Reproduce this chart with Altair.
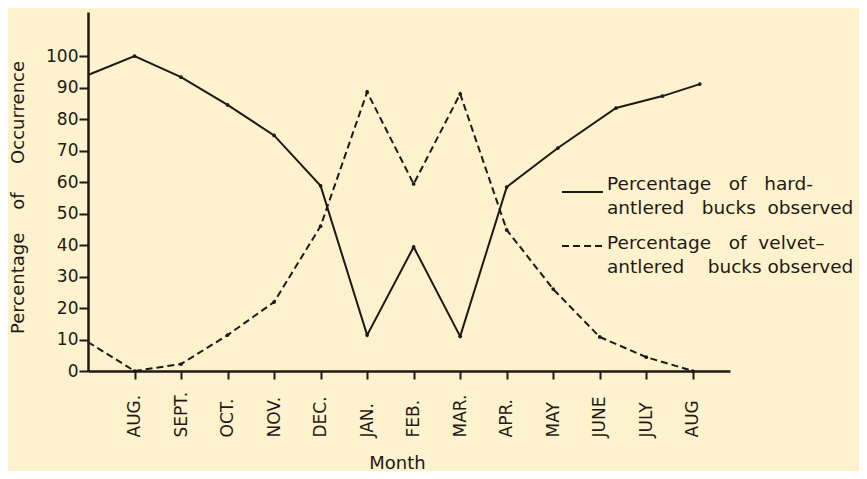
import json
import altair as alt
import pandas as pd

# ---- data ----
months = ["AUG.", "SEPT.", "OCT.", "NOV.", "DEC.", "JAN.", "FEB.", "MAR.",
          "APR.", "MAY", "JUNE", "JULY", "AUG"]
hard_x = [0, 1, 2, 3, 4, 5, 6, 7, 8, 9, 10.1, 11.35, 12.35, 13.15]
hard_pct = [94, 100, 93.3, 84.5, 74.8, 58.8, 11.4, 39.4, 11, 58.4, 70.8, 83.5, 87.3, 91.1]
velvet_x = [0, 1, 2, 3, 4, 5, 6, 7, 8, 9, 10, 11, 12, 13]
velvet_pct = [9.2, 0, 2.2, 11.4, 21.9, 46, 88.6, 59.4, 88, 44.8, 26, 10.8, 4.4, 0]
y_ticks = [0, 10, 20, 30, 40, 50, 60, 70, 80, 90, 100]

NB = "\u00a0"
legend_hard = ["Percentage" + NB * 3 + "of" + NB * 3 + "hard-",
               "antlered" + NB * 3 + "bucks" + NB * 2 + "observed"]
legend_velvet = ["Percentage" + NB * 3 + "of" + NB * 2 + "velvet\u2013",
                 "antlered" + NB * 4 + "bucks" + NB + "observed"]
y_title = "Percentage" + NB * 4 + "of" + NB * 5 + "Occurrence"
x_title = "Month"

INK = "#1e1914"
BG = "#fcf2cd"
FONT = "DejaVu Sans"

hard_df = pd.DataFrame({"x": hard_x, "pct": hard_pct})
velvet_df = pd.DataFrame({"x": velvet_x, "pct": velvet_pct})
one = pd.DataFrame({"k": [0]})

label_expr = json.dumps([""] + months) + "[datum.value]"

x_enc = alt.X(
    "x:Q",
    scale=alt.Scale(domain=[0, 13.8], nice=False, zero=False),
    axis=alt.Axis(
        values=list(range(1, 14)), labelExpr=label_expr, labelAngle=270,
        labelAlign="left", labelBaseline="middle", labelPadding=58,
        labelFontSize=17, tickSize=8, grid=False, labelOverlap=False,
        title=x_title, titleX=309, titleY=92, titleBaseline="middle",
        titleAlign="center", titleFontSize=18, titleFontWeight="normal",
    ),
)
y_enc = alt.Y(
    "pct:Q",
    scale=alt.Scale(domain=[0, 114], nice=False),
    axis=alt.Axis(
        values=y_ticks, tickSize=9, labelPadding=1, labelFontSize=17, grid=False,
        labelOverlap=False, labelBound=False, labelFlush=False,
        title=y_title, titleX=-70, titleY=185, titleAngle=270,
        titleBaseline="middle", titleAlign="center", titleFontSize=18,
        titleFontWeight="normal",
    ),
)

hard_line = alt.Chart(hard_df).mark_line(color=INK, strokeWidth=2).encode(x=x_enc, y=y_enc)
velvet_line = alt.Chart(velvet_df).mark_line(
    color=INK, strokeWidth=2, strokeDash=[7, 4]).encode(x=x_enc, y=y_enc)
hard_pts = alt.Chart(hard_df[hard_df.x > 0]).mark_point(
    filled=True, color=INK, size=14, opacity=1).encode(x=x_enc, y=y_enc)
velvet_pts = alt.Chart(velvet_df[velvet_df.x > 0]).mark_point(
    filled=True, color=INK, size=14, opacity=1).encode(x=x_enc, y=y_enc)

leg_rule_hard = alt.Chart(one).mark_rule(color=INK, strokeWidth=2).encode(
    x=alt.value(474), x2=alt.value(515), y=alt.value(180))
leg_rule_velvet = alt.Chart(one).mark_rule(color=INK, strokeWidth=2, strokeDash=[7, 4]).encode(
    x=alt.value(474), x2=alt.value(515), y=alt.value(234))
leg_text_hard = alt.Chart(one).mark_text(
    text=legend_hard, align="left", baseline="alphabetic", font=FONT, fontSize=18.5,
    color=INK, lineHeight=24).encode(x=alt.value(519), y=alt.value(178))
leg_text_velvet = alt.Chart(one).mark_text(
    text=legend_velvet, align="left", baseline="alphabetic", font=FONT, fontSize=18.5,
    color=INK, lineHeight=24).encode(x=alt.value(519), y=alt.value(237))

chart = alt.layer(
    hard_line, velvet_line, hard_pts, velvet_pts,
    leg_rule_hard, leg_rule_velvet, leg_text_hard, leg_text_velvet,
).properties(
    width=642, height=359,
    autosize=alt.AutoSizeParams(type="none"),
    padding={"left": 80, "top": 4, "right": 129, "bottom": 100},
    background=BG,
).configure_view(stroke=None).configure_axis(
    labelFont=FONT, titleFont=FONT, labelColor=INK, titleColor=INK,
    domainColor=INK, tickColor=INK, domainWidth=2.5, tickWidth=2,
    labelOverlap=False,
)

chart.save("out.html", embed_options={"renderer": "svg", "actions": False})
